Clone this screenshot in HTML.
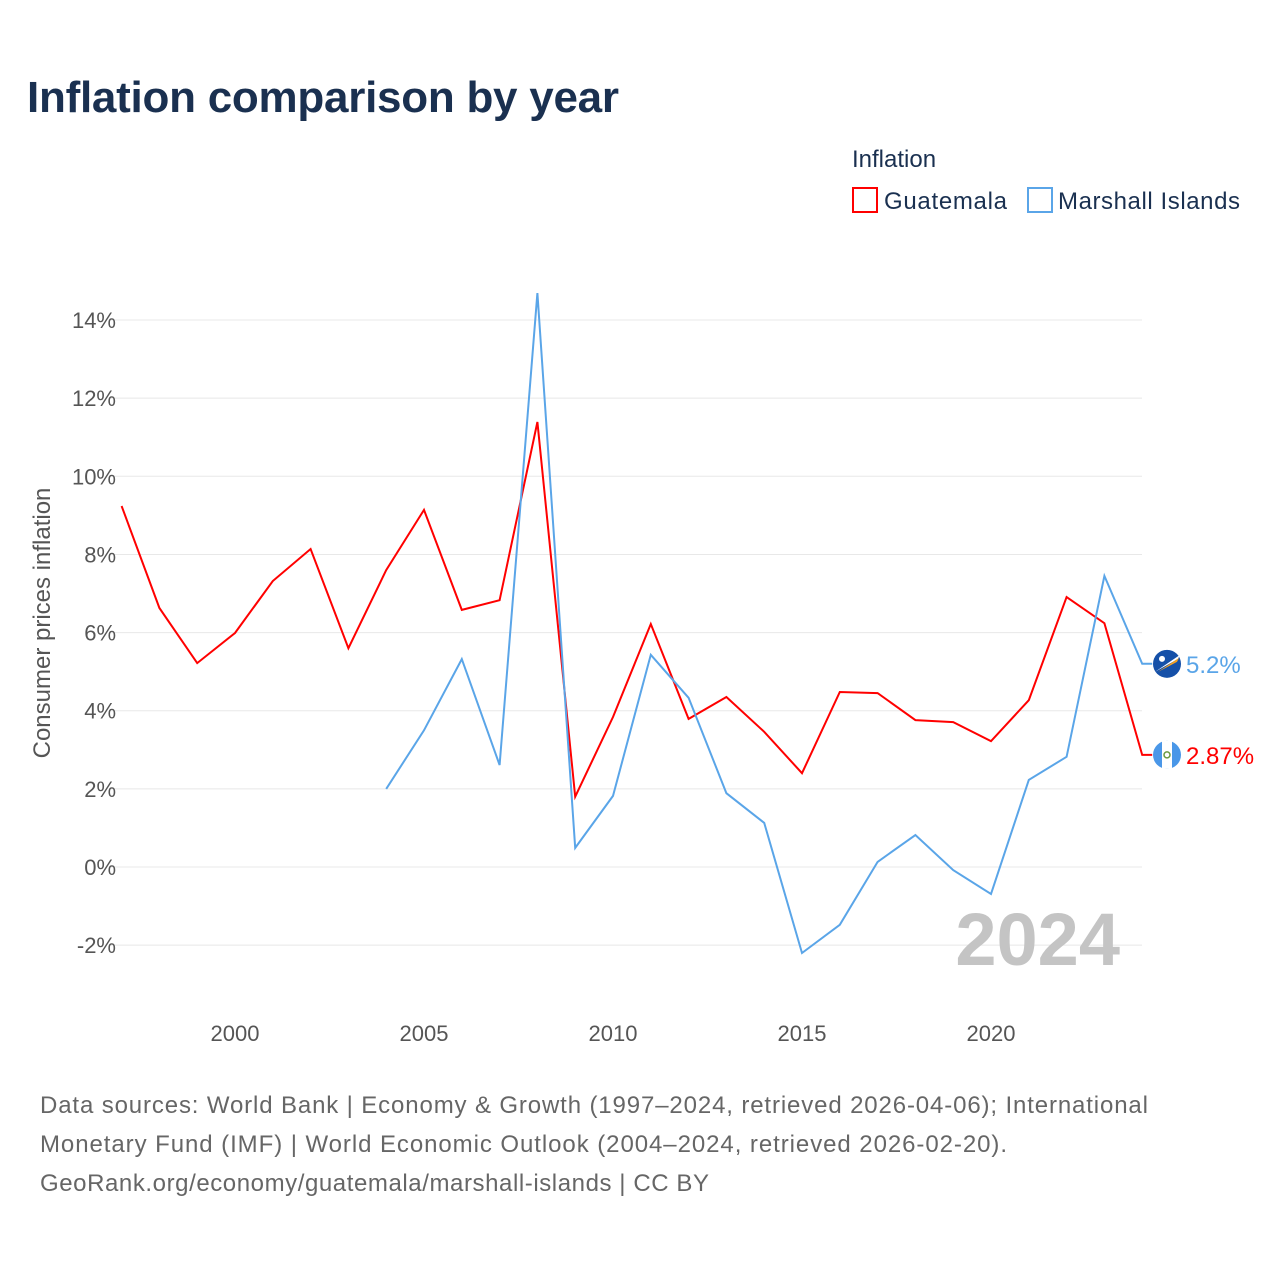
<!DOCTYPE html>
<html><head><meta charset="utf-8"><style>
body{margin:0;background:#fff;font-family:"Liberation Sans",sans-serif;}
</style></head><body>
<svg width="1280" height="1280" xmlns="http://www.w3.org/2000/svg" font-family="Liberation Sans, sans-serif">
<text x="27" y="112" font-size="44" font-weight="bold" fill="#1a3050" textLength="592">Inflation comparison by year</text>
<text x="852" y="167" font-size="24" fill="#1a3050">Inflation</text>
<g><rect x="853" y="188" width="24" height="24" fill="none" stroke="#ff0000" stroke-width="2"/><text x="884" y="209" font-size="24" fill="#1a3050" textLength="123">Guatemala</text></g>
<g><rect x="1028" y="188" width="24" height="24" fill="none" stroke="#5aa5e8" stroke-width="2"/><text x="1058" y="209" font-size="24" fill="#1a3050" textLength="182">Marshall Islands</text></g>
<g id="grid"></g>
<g id="yt"></g>
<g id="xt"></g>
<text transform="translate(50,623) rotate(-90)" text-anchor="middle" font-size="24" fill="#555">Consumer prices inflation</text>
<text x="1120" y="965" text-anchor="end" font-size="74" font-weight="bold" fill="#c4c4c4">2024</text>
<path id="gt" fill="none" stroke="#ff0000" stroke-width="2"/>
<path id="mh" fill="none" stroke="#5aa5e8" stroke-width="2"/>
<g id="ends"></g>
<g font-size="24" fill="#666">
<text x="40" y="1113" textLength="1108">Data sources: World Bank | Economy &amp; Growth (1997–2024, retrieved 2026-04-06); International</text>
<text x="40" y="1152" textLength="967">Monetary Fund (IMF) | World Economic Outlook (2004–2024, retrieved 2026-02-20).</text>
<text x="40" y="1191" textLength="669">GeoRank.org/economy/guatemala/marshall-islands | CC BY</text>
</g>
</svg>
<script>
const guatemalaYears=[1997,1998,1999,2000,2001,2002,2003,2004,2005,2006,2007,2008,2009,2010,2011,2012,2013,2014,2015,2016,2017,2018,2019,2020,2021,2022,2023,2024];
const guatemalaValues=[9.24,6.63,5.22,5.99,7.32,8.14,5.6,7.6,9.14,6.58,6.83,11.39,1.8,3.84,6.22,3.79,4.35,3.46,2.4,4.48,4.45,3.76,3.71,3.22,4.27,6.91,6.24,2.87];
const marshallYears=[2004,2005,2006,2007,2008,2009,2010,2011,2012,2013,2014,2015,2016,2017,2018,2019,2020,2021,2022,2023,2024];
const marshallValues=[2.0,3.5,5.32,2.61,14.69,0.49,1.82,5.43,4.33,1.89,1.13,-2.2,-1.48,0.13,0.82,-0.08,-0.69,2.23,2.82,7.45,5.2];
const yTicks=[-2,0,2,4,6,8,10,12,14];
const xTicks=[2000,2005,2010,2015,2020];
const endLabels=["5.2%","2.87%"];
const NS="http://www.w3.org/2000/svg";
const xs=y=>121.6+(y-1997)*37.8;
const ys=v=>867-v*39.07;
function mk(t,a,p,txt){const e=document.createElementNS(NS,t);for(const k in a)e.setAttribute(k,a[k]);if(txt!=null)e.textContent=txt;p.appendChild(e);return e;}
const grid=document.getElementById('grid'),yt=document.getElementById('yt'),xt=document.getElementById('xt');
yTicks.forEach(v=>{
 const l=mk('line',{x1:110,x2:1142,y1:ys(v),y2:ys(v),stroke:'#e8e8e8','stroke-width':1},grid);
 
 
 const t=mk('text',{x:116,y:ys(v)+8,'text-anchor':'end','font-size':22,fill:'#555'},yt,v+'%');
 
 
});
xTicks.forEach(y=>{
 const t=mk('text',{x:xs(y),y:1041,'text-anchor':'middle','font-size':22,fill:'#555'},xt,String(y));
 
 
});
const path=(ys_,vs)=>ys_.map((y,i)=>(i?'L':'M')+xs(y).toFixed(1)+','+ys(vs[i]).toFixed(1)).join('');
const gLast=guatemalaValues[guatemalaValues.length-1],mLast=marshallValues[marshallValues.length-1];
document.getElementById('gt').setAttribute('d',path(guatemalaYears,guatemalaValues)+'h10');
document.getElementById('mh').setAttribute('d',path(marshallYears,marshallValues)+'h10');
const ends=document.getElementById('ends');
let g=mk('g',{},ends);


let cy=ys(mLast);
mk('circle',{cx:1167,cy:cy,r:14,fill:'#1550a8'},g);
mk('path',{d:`M1155,${cy+8} L1180,${cy-9} L1178,${cy-5} Z`,fill:'#fff'},g);
mk('path',{d:`M1158,${cy+8} L1179,${cy-6} L1177,${cy-2} Z`,fill:'#f5a020'},g);
mk('circle',{cx:1162,cy:cy-5,r:3,fill:'#fff'},g);
mk('text',{x:1186,y:cy+9,'font-size':24,fill:'#5aa5e8'},g,endLabels[0]);
g=mk('g',{},ends);


cy=ys(gLast);
mk('circle',{cx:1167,cy:cy,r:14,fill:'#4a97e8'},g);
mk('rect',{x:1162,y:cy-14,width:10,height:28,fill:'#fff'},g);
mk('circle',{cx:1167,cy:cy,r:3,fill:'none',stroke:'#6a9a40','stroke-width':1.5},g);
mk('text',{x:1186,y:cy+9,'font-size':24,fill:'#ff0000'},g,endLabels[1]);
</script>
</body></html>
